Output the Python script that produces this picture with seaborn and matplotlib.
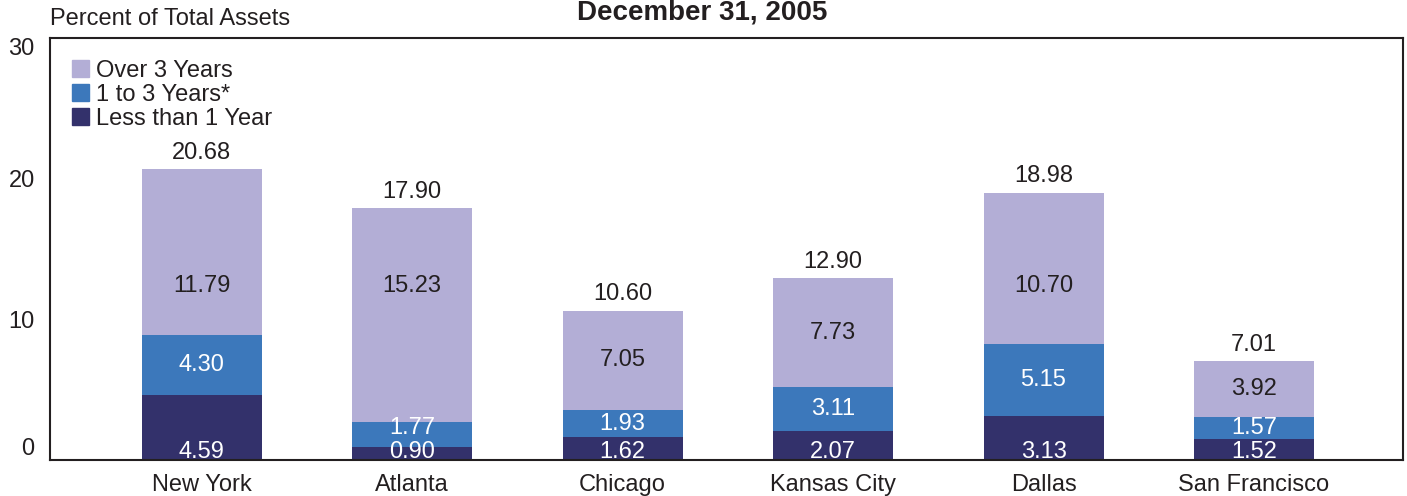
import matplotlib
matplotlib.use("Agg")
import matplotlib.pyplot as plt
import seaborn as sns
import numpy as np
import pandas as pd
from matplotlib.patches import Patch

banks = ["New York", "Atlanta", "Chicago", "Kansas City", "Dallas", "San Francisco"]
less_than_1 = [4.59, 0.90, 1.62, 2.07, 3.13, 1.52]
one_to_3 = [4.30, 1.77, 1.93, 3.11, 5.15, 1.57]
over_3 = [11.79, 15.23, 7.05, 7.73, 10.70, 3.92]
totals = [20.68, 17.90, 10.60, 12.90, 18.98, 7.01]

C_OVER = "#b3aed6"
C_MID = "#3c78bb"
C_LESS = "#33316b"
TXT = "#231f20"

sns.set_theme(style="white")
plt.rcParams["font.family"] = ["Liberation Sans", "DejaVu Sans"]

lo = np.array(less_than_1)
mid = np.array(one_to_3)
hi = np.array(over_3)
df = pd.DataFrame({
    "bank": banks,
    "cum_top": lo + mid + hi,
    "cum_mid": lo + mid,
    "cum_lo": lo,
})

fig = plt.figure(figsize=(14.07, 4.96), dpi=100)
ax = fig.add_axes([0.0355, 0.0726, 0.962, 0.8508])

w = 0.57
sns.barplot(data=df, x="bank", y="cum_top", color=C_OVER, width=w, saturation=1, ax=ax)
sns.barplot(data=df, x="bank", y="cum_mid", color=C_MID, width=w, saturation=1, ax=ax)
sns.barplot(data=df, x="bank", y="cum_lo", color=C_LESS, width=w, saturation=1, ax=ax)
for p in ax.patches:
    p.set_edgecolor("none")

fs = 17
for i in range(len(banks)):
    # bottom segment label sits near the baseline
    ax.text(i, 0.6, f"{lo[i]:.2f}", ha="center", va="center", color="white", fontsize=fs)
    # middle segment
    ym = max(lo[i] + mid[i] / 2, 2.3)
    ax.text(i, ym, f"{mid[i]:.2f}", ha="center", va="center", color="white", fontsize=fs)
    # top segment
    yt = lo[i] + mid[i] + hi[i] / 2
    if yt > 10:
        yt = 12.4
    ax.text(i, yt, f"{hi[i]:.2f}", ha="center", va="center", color=TXT, fontsize=fs)
    # total above the bar
    ax.annotate(f"{totals[i]:.2f}", (i, lo[i] + mid[i] + hi[i]), xytext=(0, 4),
                textcoords="offset points", ha="center", va="bottom", color=TXT, fontsize=fs)

ax.set_xlim(-0.72, 5.71)
ax.set_ylim(0, 30)
ax.set_yticks([0, 10, 20, 30])
ax.set_xlabel("")
ax.set_ylabel("")
ax.tick_params(axis="both", length=0, labelsize=fs, colors=TXT)
ax.tick_params(axis="y", pad=11)
ax.tick_params(axis="x", pad=10)
ylabels = ax.get_yticklabels()
ylabels[0].set_va("bottom")
ylabels[-1].set_va("top")
for s in ax.spines.values():
    s.set_visible(True)
    s.set_color(TXT)
    s.set_linewidth(1.5)

handles = [Patch(color=C_OVER, label="Over 3 Years"),
           Patch(color=C_MID, label="1 to 3 Years*"),
           Patch(color=C_LESS, label="Less than 1 Year")]
leg = ax.legend(handles=handles, loc="upper left", frameon=False, fontsize=17,
                handlelength=0.72, handleheight=0.72, handletextpad=0.3,
                labelspacing=0.08, borderaxespad=0.0, bbox_to_anchor=(0.009, 0.97))
for t in leg.get_texts():
    t.set_color(TXT)

fig.text(0.0355, 0.9617, "Percent of Total Assets", ha="left", va="center", fontsize=17, color=TXT)
fig.text(0.499, 0.961, "December 31, 2005", ha="center", va="baseline", fontsize=20,
         fontweight="bold", color=TXT)

fig.savefig("out.png", dpi=100)
